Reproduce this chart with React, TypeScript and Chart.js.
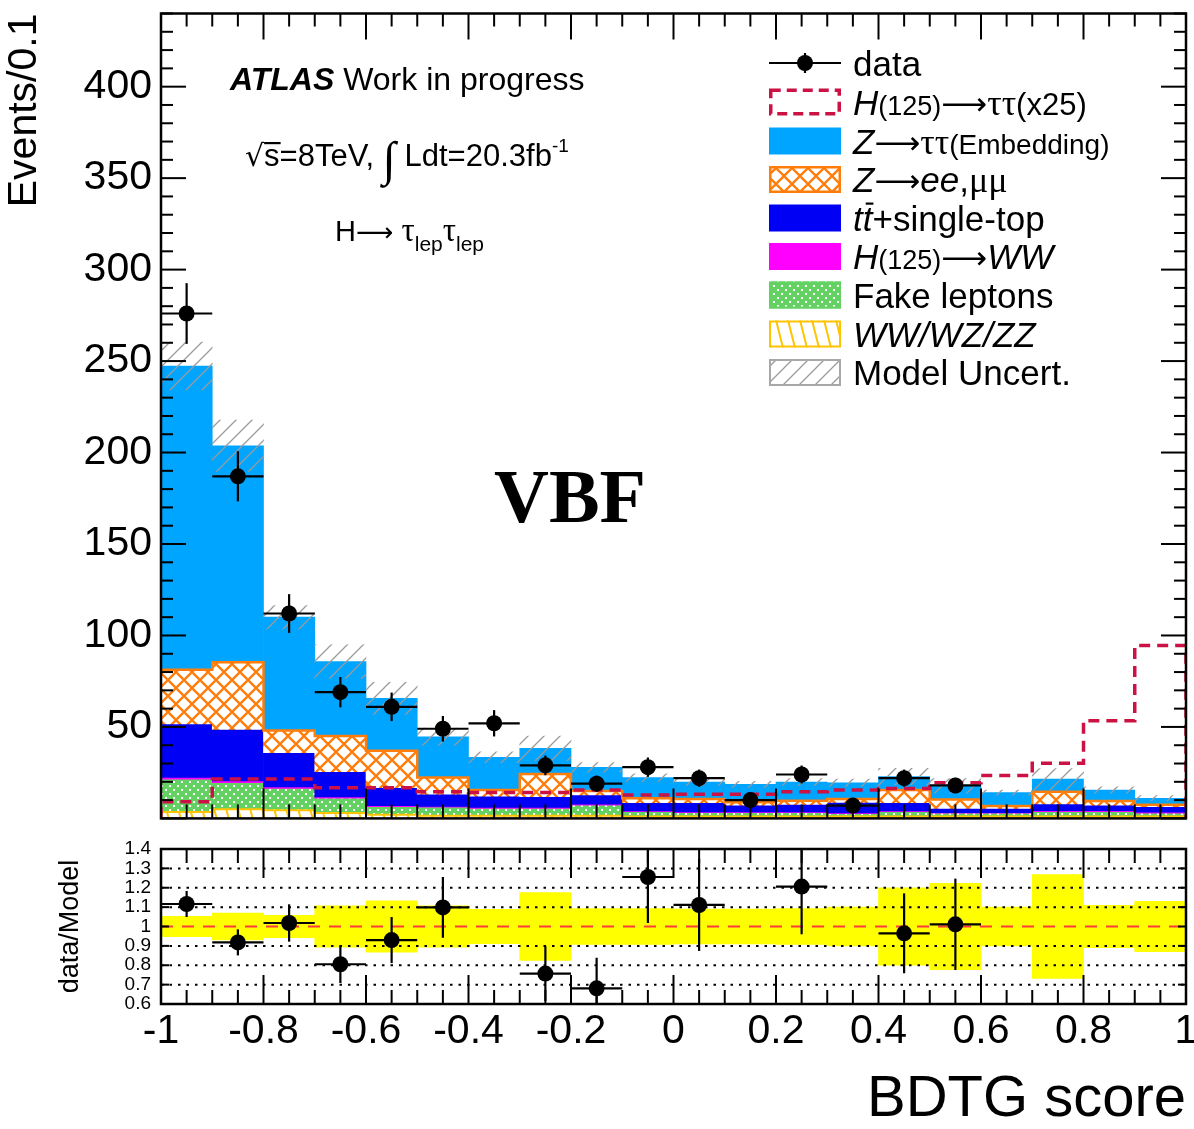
import React, { useEffect, useRef } from "react";
import { Chart, registerables } from "chart.js";
Chart.register(...registerables);

const SANS = '"Liberation Sans", Arial, Helvetica, sans-serif';
const SERIF = '"Liberation Serif", "Times New Roman", serif';
const ARROW_FONT = '"DejaVu Sans", "Liberation Sans", sans-serif';

// ---------------- data ----------------
const BIN_EDGES = [-1, -0.9, -0.8, -0.7, -0.6, -0.5, -0.4, -0.3, -0.2, -0.1, 0, 0.1, 0.2, 0.3, 0.4, 0.5, 0.6, 0.7, 0.8, 0.9, 1];
const X_TICK_LABELS = ["-1", "-0.8", "-0.6", "-0.4", "-0.2", "0", "0.2", "0.4", "0.6", "0.8", "1"];

const DATA = [276, 187, 112, 69, 61, 49, 52, 29, 19, 28, 22, 10, 24, 7, 22, 18];
const DATA_ERR = [16.6, 13.7, 10.6, 8.3, 7.8, 7.0, 7.2, 5.4, 4.4, 5.3, 4.7, 3.2, 4.9, 2.6, 4.7, 4.2];

const DIBOSON = [3.5, 5.0, 4.5, 3.0, 2.0, 1.5, 1.5, 1.5, 1.5, 1.0, 1.0, 1.0, 1.0, 1.0, 1.0, 1.0, 1.0, 1.0, 1.0, 1.0];
const FAKE = [17.9, 14.5, 11.9, 8.0, 4.4, 4.6, 4.0, 4.0, 5.8, 2.7, 2.1, 2.1, 2.1, 1.6, 2.7, 1.8, 1.8, 2.7, 2.7, 1.8];
const HWW = [1.0, 1.0, 0.8, 0.8, 0.6, 0.5, 0.5, 0.5, 0.5, 0.4, 0.4, 0.4, 0.4, 0.4, 0.4, 0.4, 0.4, 0.5, 0.5, 0.6];
const TTBAR = [29.2, 28.2, 18.7, 13.7, 9.8, 6.6, 6.2, 5.9, 5.0, 4.5, 5.1, 3.8, 4.2, 5.8, 4.5, 2.3, 2.3, 3.7, 3.1, 3.0];
const ZLL = [29.6, 36.7, 12.1, 19.6, 20.2, 9.1, 3.3, 12.4, 2.2, 2.4, 2.0, 1.5, 2.0, 1.8, 6.9, 4.9, 1.3, 6.7, 2.2, 1.0];
const ZTT = [166.1, 118.3, 62.0, 40.6, 28.6, 22.3, 17.9, 14.0, 12.9, 11.3, 9.2, 9.8, 10.2, 8.9, 7.3, 7.4, 7.3, 6.9, 6.0, 3.6];
const SIGNAL_X25 = [9.1, 21.5, 21.5, 16.8, 16.8, 14.6, 14.1, 14.1, 15.5, 12.8, 13.2, 13.2, 14.6, 15.5, 16.4, 19.5, 23.4, 30.1, 53.4, 94.5];
const MODEL_UNC = [0.053, 0.069, 0.058, 0.107, 0.133, 0.107, 0.088, 0.175, 0.092, 0.093, 0.09, 0.09, 0.092, 0.1, 0.2, 0.223, 0.1, 0.268, 0.109, 0.13];

// ---------------- colours ----------------
const ZTT_C = "#00A5FF";
const ZLL_C = "#FF7D0A";
const TT_C = "#0000F5";
const HWW_C = "#FF00FF";
const FAKE_C = "#63D263";
const VV_C = "#FFC400";
const SIG_C = "#CC1144";
const HATCH_C = "#9A9A9A";

const CENTERS = BIN_EDGES.slice(0, -1).map((e, i) => (e + BIN_EDGES[i + 1]) / 2);

function cumulate(layers: number[][]) {
  const out: { lo: number[]; hi: number[] }[] = [];
  let run = layers[0].map(() => 0);
  for (const l of layers) {
    const hi = run.map((r, i) => r + l[i]);
    out.push({ lo: run, hi });
    run = hi;
  }
  return out;
}
const STACK = cumulate([DIBOSON, FAKE, HWW, TTBAR, ZLL, ZTT]);
const TOTAL = STACK[5].hi;
const ZLL_TOP = STACK[4].hi;

function tile(w: number, h: number, draw: (g: CanvasRenderingContext2D) => void) {
  const c = document.createElement("canvas");
  c.width = w;
  c.height = h;
  draw(c.getContext("2d")!);
  return c;
}

function makePatterns(ctx: CanvasRenderingContext2D) {
  const zll = tile(16, 16, (g) => {
    g.fillStyle = "#fff";
    g.fillRect(0, 0, 16, 16);
    g.strokeStyle = ZLL_C;
    g.lineWidth = 2.3;
    g.beginPath();
    for (let k = -1; k <= 1; k++) {
      g.moveTo(-4, -4 + 16 * k);
      g.lineTo(20, 20 + 16 * k);
    }
    for (let k = 0; k <= 2; k++) {
      g.moveTo(-4, 16 * k + 4);
      g.lineTo(20, 16 * k - 20);
    }
    g.stroke();
  });
  const hatch = tile(16, 16, (g) => {
    g.strokeStyle = HATCH_C;
    g.lineWidth = 1.3;
    g.beginPath();
    for (let k = 0; k <= 2; k++) {
      g.moveTo(-4, 16 * k + 4);
      g.lineTo(20, 16 * k - 20);
    }
    g.stroke();
  });
  const vv = tile(12, 48, (g) => {
    g.fillStyle = "#fff";
    g.fillRect(0, 0, 12, 48);
    g.strokeStyle = VV_C;
    g.lineWidth = 2;
    g.beginPath();
    for (let k = -1; k <= 1; k++) {
      g.moveTo(12 * k - 1, -4);
      g.lineTo(12 * k + 13, 52);
    }
    g.stroke();
  });
  const fake = tile(8, 8, (g) => {
    g.fillStyle = FAKE_C;
    g.fillRect(0, 0, 8, 8);
    g.fillStyle = "#fff";
    g.fillRect(1, 1, 2, 2);
    g.fillRect(5, 5, 2, 2);
  });
  return {
    zll: ctx.createPattern(zll, "repeat")!,
    hatch: ctx.createPattern(hatch, "repeat")!,
    vv: ctx.createPattern(vv, "repeat")!,
    fake: ctx.createPattern(fake, "repeat")!,
  };
}

type Seg = { t: string; f?: string; dy?: number; ol?: number; olx?: number };
function rich(ctx: CanvasRenderingContext2D, x: number, y: number, segs: Seg[], base: string) {
  let cx = x;
  for (const s of segs) {
    ctx.font = s.f ?? base;
    const yy = y + (s.dy ?? 0);
    ctx.fillText(s.t, cx, yy);
    const w = ctx.measureText(s.t).width;
    if (s.ol) ctx.fillRect(cx + (s.olx ?? 0), yy - s.ol, w - (s.olx ?? 0) + 1, 2.2);
    cx += w;
  }
  return cx;
}

function seg(ctx: CanvasRenderingContext2D, x1: number, y1: number, x2: number, y2: number) {
  ctx.beginPath();
  ctx.moveTo(x1, y1);
  ctx.lineTo(x2, y2);
  ctx.stroke();
}

function stepPoints(vals: number[], closeLeft: boolean, closeRight: boolean) {
  const pts: { x: number; y: number }[] = [];
  if (closeLeft) pts.push({ x: BIN_EDGES[0], y: 0 });
  vals.forEach((v, i) => pts.push({ x: BIN_EDGES[i], y: v }));
  pts.push({ x: BIN_EDGES[BIN_EDGES.length - 1], y: vals[vals.length - 1] });
  if (closeRight) pts.push({ x: BIN_EDGES[BIN_EDGES.length - 1], y: 0 });
  return pts;
}

const barCommon = { grouped: false, barPercentage: 1, categoryPercentage: 1, borderWidth: 0 };

export default function App() {
  const mainRef = useRef<HTMLCanvasElement>(null);
  const ratioRef = useRef<HTMLCanvasElement>(null);

  useEffect(() => {
    const mc = mainRef.current!;
    const rc = ratioRef.current!;
    const pat = makePatterns(mc.getContext("2d")!);

    const stackStyles = [
      { label: "WW/WZ/ZZ", bg: pat.vv },
      { label: "Fake leptons", bg: pat.fake },
      { label: "H(125)->WW", bg: HWW_C },
      { label: "ttbar", bg: TT_C },
      { label: "Z->ee,mumu", bg: pat.zll },
      { label: "Z->tautau", bg: ZTT_C },
    ];
    const stackSets = STACK.map((s, k) => ({
      type: "bar",
      label: stackStyles[k].label,
      data: CENTERS.map((c, i) => ({ x: c, y: [s.lo[i], s.hi[i]] })),
      backgroundColor: stackStyles[k].bg,
      ...barCommon,
      order: 9 - k,
    }));

    const mainPlugin = {
      id: "mainDecor",
      afterDatasetsDraw(chart: any) {
        const { ctx, scales } = chart;
        const xs = scales.x, ys = scales.y;
        ctx.save();
        ctx.strokeStyle = "#000";
        ctx.lineWidth = 2.2;
        DATA.forEach((d, i) => {
          const cx = xs.getPixelForValue(CENTERS[i]);
          const cy = ys.getPixelForValue(d);
          seg(ctx, xs.getPixelForValue(BIN_EDGES[i]), cy, xs.getPixelForValue(BIN_EDGES[i + 1]), cy);
          seg(ctx, cx, ys.getPixelForValue(d - DATA_ERR[i]), cx, ys.getPixelForValue(d + DATA_ERR[i]));
        });
        ctx.restore();
      },
      afterDraw(chart: any) {
        const { ctx, chartArea: a, scales } = chart;
        const xs = scales.x, ys = scales.y;
        ctx.save();
        ctx.strokeStyle = "#000";
        ctx.lineWidth = 2.5;
        ctx.strokeRect(a.left, a.top, a.right - a.left, a.bottom - a.top);
        ctx.lineWidth = 2;
        for (let k = 0; k <= 40; k++) {
          const px = xs.getPixelForValue(-1 + k * 0.05);
          const L = k % 4 === 0 ? 30 : 14;
          seg(ctx, px, a.bottom, px, a.bottom - L);
          seg(ctx, px, a.top, px, a.top + (k % 4 === 0 ? 26 : 13));
        }
        for (let v = 0; v <= 440; v += 10) {
          const py = ys.getPixelForValue(v);
          const L = v % 50 === 0 ? 25 : 12;
          seg(ctx, a.left, py, a.left + L, py);
          seg(ctx, a.right, py, a.right - L, py);
        }

        // texts
        ctx.fillStyle = "#000";
        ctx.textAlign = "left";
        ctx.textBaseline = "alphabetic";
        rich(ctx, 230, 90, [
          { t: "ATLAS", f: `italic bold 32px ${SANS}` },
          { t: " Work in progress", f: `32px ${SANS}` },
        ], `32px ${SANS}`);
        rich(ctx, 245, 166, [
          { t: "√", f: `30px "DejaVu Sans", ${SANS}` },
          { t: "s", ol: 24 },
          { t: "=8TeV, " },
          { t: "∫", f: `48px ${SERIF}`, dy: 9 },
          { t: " Ldt=20.3fb" },
          { t: "-1", f: `19px ${SANS}`, dy: -14 },
        ], `31px ${SANS}`);
        rich(ctx, 335, 241, [
          { t: "H" },
          { t: "⟶ ", f: `26px ${ARROW_FONT}` },
          { t: "τ", f: `33px ${SERIF}` },
          { t: "lep", f: `21px ${SANS}`, dy: 10 },
          { t: "τ", f: `33px ${SERIF}` },
          { t: "lep", f: `21px ${SANS}`, dy: 10 },
        ], `29px ${SANS}`);
        ctx.textAlign = "center";
        ctx.font = `bold 76px ${SERIF}`;
        ctx.fillText("VBF", 570, 522);
        ctx.textAlign = "left";

        // legend
        const boxX = 769, boxW = 72, boxH = 27, textX = 853;
        const rows = [63, 102, 141, 179.5, 218, 256.5, 295, 334, 372.5];
        const base = `35px ${SANS}`;
        const it = `italic 35px ${SANS}`;
        const sm = `27px ${SANS}`;
        const gr = `36px ${SERIF}`;
        const arr = `32px ${ARROW_FONT}`;
        // data marker
        ctx.lineWidth = 2.2;
        seg(ctx, boxX, rows[0], boxX + boxW, rows[0]);
        seg(ctx, boxX + 36, rows[0] - 10, boxX + 36, rows[0] + 10);
        ctx.beginPath();
        ctx.arc(boxX + 36, rows[0], 8, 0, Math.PI * 2);
        ctx.fill();
        const box = (r: number, fill: any, stroke: string | null, lw = 2) => {
          const y = rows[r] - boxH / 2;
          if (fill) {
            ctx.fillStyle = fill;
            ctx.fillRect(boxX, y, boxW, boxH);
          }
          if (stroke) {
            ctx.strokeStyle = stroke;
            ctx.lineWidth = lw;
            ctx.strokeRect(boxX + lw / 2, y + lw / 2, boxW - lw, boxH - lw);
          }
        };
        ctx.save();
        ctx.setLineDash([10, 6]);
        box(1, "#fff", SIG_C, 3.5);
        ctx.restore();
        box(2, ZTT_C, null);
        box(3, pat.zll, ZLL_C, 2.5);
        box(4, TT_C, null);
        box(5, HWW_C, null);
        box(6, pat.fake, FAKE_C, 2);
        box(7, pat.vv, VV_C, 2);
        box(8, pat.hatch, "#A8A8A8", 2);
        ctx.fillStyle = "#000";
        const labels: Seg[][] = [
          [{ t: "data" }],
          [{ t: "H", f: it }, { t: "(125)", f: sm }, { t: "⟶", f: arr }, { t: "ττ", f: gr }, { t: "(x25)", f: `31px ${SANS}` }],
          [{ t: "Z", f: it }, { t: "⟶", f: arr }, { t: "ττ", f: gr }, { t: "(Embedding)", f: `28px ${SANS}` }],
          [{ t: "Z", f: it }, { t: "⟶", f: arr }, { t: "ee", f: it }, { t: "," }, { t: "μμ", f: gr }],
          [{ t: "t", f: it }, { t: "t", f: it, ol: 28, olx: 3 }, { t: "+single-top" }],
          [{ t: "H", f: it }, { t: "(125)", f: sm }, { t: "⟶", f: arr }, { t: "WW", f: it }],
          [{ t: "Fake leptons" }],
          [{ t: "WW/WZ/ZZ", f: it }],
          [{ t: "Model Uncert." }],
        ];
        labels.forEach((l, r) => rich(ctx, textX, rows[r] + 12.5, l, base));
        ctx.restore();
      },
    };

    const main = new Chart(mc, {
      type: "bar",
      data: {
        datasets: [
          {
            type: "scatter",
            label: "data",
            data: DATA.map((d, i) => ({ x: CENTERS[i], y: d })),
            pointRadius: 8,
            pointBackgroundColor: "#000",
            pointBorderWidth: 0,
            order: 0,
          },
          {
            type: "line",
            label: "H(125)->tautau (x25)",
            data: stepPoints(SIGNAL_X25, true, true),
            stepped: true,
            borderColor: SIG_C,
            borderWidth: 3.5,
            borderDash: [11, 7],
            pointRadius: 0,
            fill: false,
            order: 1,
          },
          {
            type: "bar",
            label: "Model Uncert.",
            data: CENTERS.map((c, i) => ({ x: c, y: [TOTAL[i] * (1 - MODEL_UNC[i]), TOTAL[i] * (1 + MODEL_UNC[i])] })),
            backgroundColor: pat.hatch,
            ...barCommon,
            order: 2,
          },
          {
            type: "line",
            label: "zll outline",
            data: stepPoints(ZLL_TOP, false, false),
            stepped: true,
            borderColor: ZLL_C,
            borderWidth: 2.5,
            pointRadius: 0,
            fill: false,
            order: 3,
          },
          {
            type: "line",
            label: "vv outline",
            data: stepPoints(DIBOSON, false, false),
            stepped: true,
            borderColor: VV_C,
            borderWidth: 2,
            pointRadius: 0,
            fill: false,
            order: 3,
          },
          ...stackSets,
        ] as any,
      },
      options: {
        responsive: false,
        animation: false,
        devicePixelRatio: 1,
        events: [],
        layout: { padding: { left: 0, right: 7, top: 13.5, bottom: 17.6 } },
        plugins: { legend: { display: false }, tooltip: { enabled: false } },
        scales: {
          x: { type: "linear", min: -1, max: 1, offset: false, display: false },
          y: {
            type: "linear",
            min: 0,
            max: 440,
            grid: { display: false, drawTicks: false },
            border: { display: false },
            ticks: {
              stepSize: 50,
              includeBounds: false,
              autoSkip: false,
              padding: 9,
              color: "#000",
              font: { family: SANS, size: 41 },
              callback: (v: any) => String(v),
            },
            afterBuildTicks: (s: any) => {
              s.ticks = s.ticks.filter((t: any) => t.value > 0);
            },
            afterFit: (s: any) => {
              s.width = 161;
              s.paddingTop = 0;
              s.paddingBottom = 0;
            },
            title: {
              display: true,
              text: "Events/0.1",
              align: "end",
              color: "#000",
              font: { family: SANS, size: 41 },
              padding: { top: 0, bottom: 0 },
            },
          },
        },
      } as any,
      plugins: [mainPlugin],
    });

    // ---------------- ratio panel ----------------
    const RATIO = DATA.map((d, i) => d / TOTAL[i]);
    const RATIO_ERR = DATA.map((d, i) => DATA_ERR[i] / TOTAL[i]);
    const visible = RATIO.map((r) => r >= 0.6 && r <= 1.4);

    const ratioPlugin = {
      id: "ratioDecor",
      afterDatasetDraw(chart: any, args: any) {
        if (args.index !== 0) return;
        const { ctx, chartArea: a, scales } = chart;
        ctx.save();
        ctx.strokeStyle = "#000";
        ctx.lineWidth = 2;
        ctx.setLineDash([2.5, 6]);
        [0.7, 0.8, 0.9, 1.1, 1.2, 1.3].forEach((v) => {
          const py = scales.y.getPixelForValue(v);
          seg(ctx, a.left, py, a.right, py);
        });
        ctx.restore();
      },
      afterDatasetsDraw(chart: any) {
        const { ctx, chartArea: a, scales } = chart;
        const xs = scales.x, ys = scales.y;
        ctx.save();
        ctx.beginPath();
        ctx.rect(a.left, a.top, a.right - a.left, a.bottom - a.top);
        ctx.clip();
        ctx.strokeStyle = "#000";
        ctx.lineWidth = 2.2;
        RATIO.forEach((r, i) => {
          if (!visible[i]) return;
          const cx = xs.getPixelForValue(CENTERS[i]);
          const cy = ys.getPixelForValue(r);
          seg(ctx, xs.getPixelForValue(BIN_EDGES[i]), cy, xs.getPixelForValue(BIN_EDGES[i + 1]), cy);
          seg(ctx, cx, ys.getPixelForValue(r - RATIO_ERR[i]), cx, ys.getPixelForValue(r + RATIO_ERR[i]));
        });
        ctx.restore();
      },
      afterDraw(chart: any) {
        const { ctx, chartArea: a, scales } = chart;
        const xs = scales.x, ys = scales.y;
        ctx.save();
        ctx.strokeStyle = "#000";
        ctx.lineWidth = 2.5;
        ctx.strokeRect(a.left, a.top, a.right - a.left, a.bottom - a.top);
        ctx.lineWidth = 2;
        for (let k = 0; k <= 40; k++) {
          const px = xs.getPixelForValue(-1 + k * 0.05);
          const L = k % 4 === 0 ? 29 : 14;
          seg(ctx, px, a.bottom, px, a.bottom - L);
          seg(ctx, px, a.top, px, a.top + L);
        }
        for (let k = 0; k <= 8; k++) {
          const py = ys.getPixelForValue(0.6 + k * 0.1);
          seg(ctx, a.left, py, a.left + 8, py);
          seg(ctx, a.right, py, a.right - 8, py);
        }
        ctx.restore();
      },
    };

    const ratio = new Chart(rc, {
      type: "bar",
      data: {
        datasets: [
          {
            type: "bar",
            label: "model uncertainty",
            data: CENTERS.map((c, i) => ({ x: c, y: [1 - MODEL_UNC[i], 1 + MODEL_UNC[i]] })),
            backgroundColor: "#FFFF00",
            ...barCommon,
            order: 3,
          },
          {
            type: "line",
            label: "unity",
            data: [{ x: BIN_EDGES[0], y: 1 }, { x: BIN_EDGES[BIN_EDGES.length - 1], y: 1 }],
            borderColor: "#FF3B3B",
            borderWidth: 2,
            borderDash: [12, 9],
            pointRadius: 0,
            fill: false,
            order: 2,
          },
          {
            type: "scatter",
            label: "data/Model",
            data: RATIO.map((r, i) => ({ x: CENTERS[i], y: r })).filter((_, i) => visible[i]),
            pointRadius: 8,
            pointBackgroundColor: "#000",
            pointBorderWidth: 0,
            order: 0,
          },
        ] as any,
      },
      options: {
        responsive: false,
        animation: false,
        devicePixelRatio: 1,
        events: [],
        layout: { padding: { left: 0, right: 7, top: 13, bottom: 0 } },
        plugins: { legend: { display: false }, tooltip: { enabled: false } },
        scales: {
          x: {
            type: "linear",
            min: -1,
            max: 1,
            offset: false,
            position: "bottom",
            grid: { display: false, drawTicks: false },
            border: { display: false },
            ticks: {
              stepSize: 0.2,
              autoSkip: false,
              maxRotation: 0,
              padding: 3,
              color: "#000",
              font: { family: SANS, size: 41 },
              callback: (v: any) => X_TICK_LABELS[Math.round((Number(v) + 1) / 0.2)] ?? "",
            },
            afterFit: (s: any) => {
              s.height = 125;
              s.paddingLeft = 0;
              s.paddingRight = 0;
            },
            title: {
              display: true,
              text: "BDTG score",
              align: "end",
              color: "#000",
              font: { family: SANS, size: 58, lineHeight: 1 },
              padding: { top: 0, bottom: 0 },
            },
          },
          y: {
            type: "linear",
            min: 0.6,
            max: 1.4,
            grid: { display: false, drawTicks: false },
            border: { display: false },
            ticks: {
              stepSize: 0.1,
              autoSkip: false,
              padding: 10,
              color: "#000",
              font: { family: SANS, size: 19 },
              callback: (v: any) => String(Math.round(Number(v) * 10) / 10),
            },
            afterFit: (s: any) => {
              s.width = 161;
              s.paddingTop = 0;
              s.paddingBottom = 0;
            },
            title: {
              display: true,
              text: "data/Model",
              align: "center",
              color: "#000",
              font: { family: SANS, size: 27 },
              padding: { top: 54, bottom: 0 },
            },
          },
        },
      } as any,
      plugins: [ratioPlugin],
    });

    return () => {
      main.destroy();
      ratio.destroy();
    };
  }, []);

  return (
    <div style={{ position: "absolute", left: 0, top: 0, width: 1194, height: 1129, background: "#fff" }}>
      <canvas ref={mainRef} width={1194} height={836} style={{ position: "absolute", left: 0, top: 0 }} />
      <canvas ref={ratioRef} width={1194} height={293} style={{ position: "absolute", left: 0, top: 836 }} />
    </div>
  );
}
